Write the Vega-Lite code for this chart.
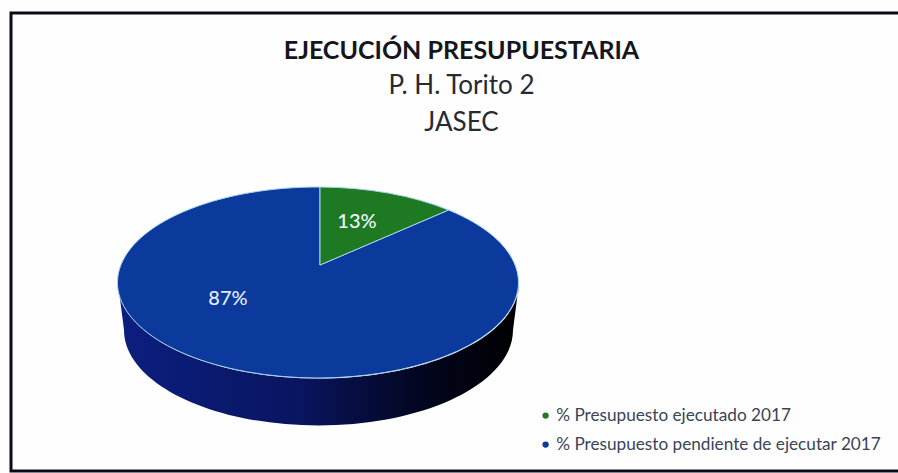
{
  "$schema": "https://vega.github.io/schema/vega-lite/v6.json",
  "width": 895,
  "height": 458,
  "autosize": "none",
  "padding": {"left": 11, "top": 13, "right": 0, "bottom": 2},
  "background": "#fefefe",
  "title": {
    "text": "EJECUCIÓN PRESUPUESTARIA",
    "subtitle": ["P. H. Torito 2", "JASEC"],
    "anchor": "middle",
    "frame": "group",
    "orient": "top",
    "offset": -123,
    "dx": 3,
    "font": "Lato",
    "fontSize": 25,
    "fontWeight": "bold",
    "color": "#14161c",
    "subtitleFont": "Lato",
    "subtitleFontSize": 26,
    "subtitleColor": "#262a33",
    "subtitleLineHeight": 37,
    "subtitlePadding": 9
  },
  "data": {
    "values": [
      {"categoria": "% Presupuesto ejecutado 2017", "porcentaje": 0.13},
      {"categoria": "% Presupuesto pendiente de ejecutar 2017", "porcentaje": 0.87}
    ]
  },
  "layer": [
    {
      "transform": [{"filter": "datum.porcentaje > 0.5"}],
      "mark": {
        "type": "point",
        "filled": true,
        "opacity": 1,
        "size": 4,
        "shape": "M-340.5 41L-334.5 88A194.5 95.5 0 0 0 54.5 88L60.5 41A200.5 95.5 0 0 1 -340.5 41Z",
        "fill": {
          "gradient": "linear",
          "x1": 0, "y1": 0, "x2": 1, "y2": 0,
          "stops": [
            {"offset": 0, "color": "#0b1f80"},
            {"offset": 0.45, "color": "#0a1560"},
            {"offset": 0.75, "color": "#030620"},
            {"offset": 1, "color": "#000000"}
          ]
        }
      },
      "encoding": {}
    },
    {
      "mark": {
        "type": "point",
        "filled": true,
        "opacity": 1,
        "size": 4,
        "shape": "M-138.5 23L-10 -32A200.5 95.5 0 1 1 -138.5 -55Z",
        "stroke": "#a8d4ec",
        "strokeWidth": 1
      },
      "transform": [{"filter": "datum.porcentaje > 0.5"}],
      "encoding": {
        "color": {
          "field": "categoria",
          "type": "nominal",
          "scale": {
            "domain": ["% Presupuesto ejecutado 2017", "% Presupuesto pendiente de ejecutar 2017"],
            "range": ["#1e7a22", "#0c3a9c"]
          },
          "legend": {
            "orient": "none",
            "legendX": 526,
            "legendY": 394,
            "title": null,
            "symbolType": "circle",
            "symbolSize": 40,
            "symbolStrokeWidth": 0,
            "labelFont": "Lato",
            "labelFontSize": 17.2,
            "labelColor": "#3a4456",
            "labelLimit": 400,
            "rowPadding": 11,
            "labelOffset": 2
          }
        }
      }
    },
    {
      "mark": {
        "type": "point",
        "filled": true,
        "opacity": 1,
        "size": 4,
        "shape": "M-138.5 23L-138.5 -55A200.5 95.5 0 0 1 -10 -32Z",
        "stroke": "#a8d4ec",
        "strokeWidth": 1
      },
      "transform": [{"filter": "datum.porcentaje < 0.5"}],
      "encoding": {
        "color": {"field": "categoria", "type": "nominal"}
      }
    },
    {
      "transform": [{"filter": "datum.porcentaje < 0.5"}],
      "mark": {"type": "text", "font": "Lato", "fontSize": 20, "fontWeight": 500, "color": "#f0f5ff", "dx": -101.5, "dy": -20},
      "encoding": {"text": {"field": "porcentaje", "type": "quantitative", "format": ".0%"}}
    },
    {
      "transform": [{"filter": "datum.porcentaje > 0.5"}],
      "mark": {"type": "text", "font": "Lato", "fontSize": 20, "fontWeight": 500, "color": "#e4ecfa", "dx": -230.5, "dy": 57},
      "encoding": {"text": {"field": "porcentaje", "type": "quantitative", "format": ".0%"}}
    }
  ],
  "config": {"style": {"view": {"stroke": "#0a0a18", "strokeWidth": 3, "fill": "#fefefe"}}}
}
